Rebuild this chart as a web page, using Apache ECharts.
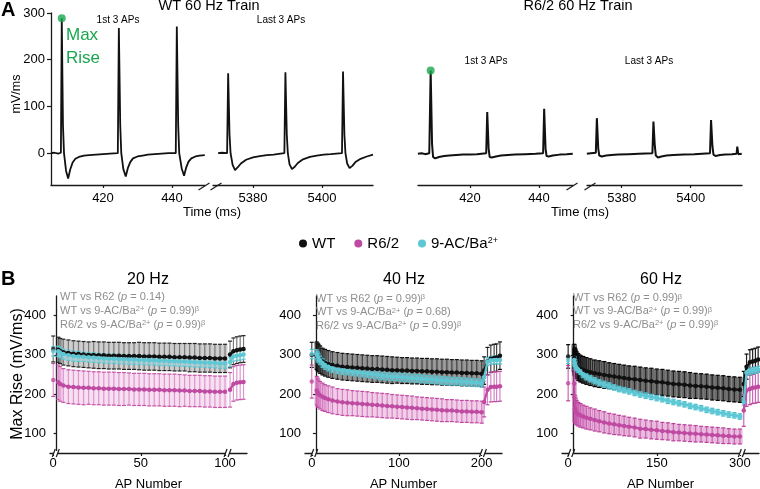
<!DOCTYPE html>
<html>
<head>
<meta charset="utf-8">
<title>Max Rise</title>
<script src="https://cdn.jsdelivr.net/npm/echarts@6.0.0/dist/echarts.min.js"></script>
<style>
html,body{margin:0;padding:0;background:#fff;}
#chart{width:760px;height:489px;}
</style>
</head>
<body>
<div id="chart"></div>
<script>
// ================= DATA =================
// ---- Panel A: dV/dt traces, [time (ms), mV/ms] ----
const wtFirst3 = [[404.9,0],[406.0,1],[407.0,-1],[407.8,1],[408.05,289],[408.4,60],[408.7,0],[409.3,-38],[409.9,-54],[410.5,-35],[411.2,-20],[412.0,-12],[413.0,-8],[414.5,-5],[416.0,-4],[418.0,-3],[420.0,-2],[422.0,-1],[424.3,0],
  [424.6,268],[425.0,60],[425.3,0],[425.9,-34],[426.6,-50],[427.2,-32],[427.9,-19],[428.7,-11],[430.0,-7],[431.5,-5],[433.0,-3],[435.0,-2],[437.0,-1],[439.0,0],[441.1,0],
  [441.4,271],[441.8,60],[442.1,0],[442.8,-32],[443.5,-48],[444.1,-31],[444.8,-18],[445.6,-11],[446.8,-7],[448.0,-5],[449.5,-4]];
const wtLast3 = [[5369.9,0],[5371.0,1],[5372.5,0],[5372.8,171],[5373.2,40],[5373.5,0],[5374.1,-25],[5374.8,-36],[5375.6,-30],[5376.5,-22],[5378.0,-14],[5380.0,-9],[5382.0,-6],[5384.0,-4],[5386.0,-3],[5388.0,-1],[5389.1,0],
  [5389.4,173],[5389.8,40],[5390.1,0],[5390.6,-24],[5391.3,-34],[5392.1,-29],[5393.0,-21],[5394.5,-13],[5396.5,-8],[5398.5,-5],[5400.5,-3],[5402.5,-2],[5405.8,0],
  [5406.1,175],[5406.5,40],[5406.8,0],[5407.3,-22],[5408.0,-32],[5408.8,-27],[5409.7,-19],[5411.2,-12],[5413.0,-7],[5414.8,-3]];
const r6First3 = [[404.9,-1],[406.0,0],[407.0,-2],[408.2,0],[408.6,177],[409.0,20],[409.3,-8],[409.9,-11],[411.0,-8],[412.5,-6],[414.0,-5],[416.0,-4],[418.0,-3],[420.0,-3],[422.0,-2],[424.7,0],
  [425.0,88],[425.4,10],[425.7,-8],[426.3,-9],[427.5,-7],[429.0,-5],[431.0,-4],[433.0,-3],[436.0,-2],[439.0,-1],[441.2,0],
  [441.5,95],[441.9,10],[442.2,-6],[442.8,-7],[444.0,-5],[446.0,-3],[448.0,-2],[449.8,-1]];
const r6Last3 = [[5369.9,-1],[5371.0,0],[5372.5,1],[5372.8,75],[5373.2,10],[5373.5,-5],[5374.2,-7],[5375.5,-5],[5377.0,-4],[5379.0,-3],[5382.0,-2],[5385.0,-1],[5388.9,0],
  [5389.2,68],[5389.6,15],[5389.9,-5],[5390.5,-9],[5391.5,-7],[5393.0,-5],[5395.0,-4],[5398.0,-3],[5401.0,-2],[5405.6,0],
  [5405.9,71],[5406.3,15],[5406.6,-3],[5407.2,-6],[5408.5,-4],[5410.0,-3],[5412.0,-2],[5413.3,-1],[5413.5,14],[5413.8,-2],[5414.8,-1]];
const wtMaxRise = [[408.05, 289]];
const r6MaxRise = [[408.6, 177]];
const timeTicksFirst = [420, 440];
const timeTicksLast = [5380, 5400];
const mvTicks = [0, 100, 200, 300];

// ---- Panel B: Max Rise (mV/ms) vs AP number ----
const riseTicks = [100, 200, 300, 400];
const prePos = [-2, -5, -10];            // isolated first point of each plot (tick "0")
const wtPre = [315, 300, 296],  wtPreE = [33, 32, 30];
const r6Pre = [236, 232, 228],  r6PreE = [42, 42, 45];
const acPre = [309, 302, 287],  acPreE = [12, 12, 9];

// 20 Hz
const apTicks20 = [50, 100];
const ap20 = [1,2,4,7,10,13,16,19,22,25,28,31,34,37,40,43,46,49,52,55,58,61,64,67,70,73,76,79,82,85,88,91,94,97,100];
const wt20 = [313,310,307,305,303,302,301,300,300,299,299,298,298,298,297,297,297,297,296,296,296,295,295,295,294,294,294,293,293,292,292,292,291,291,291];
const wt20e = [32,32,33,33,33,33,33,33,34,34,34,34,34,34,34,34,34,35,35,35,35,35,35,35,35,35,35,36,36,36,36,36,36,36,36];
const ac20 = [309,306,302,299,297,296,295,294,293,292,291,290,290,289,289,288,288,287,287,286,286,285,285,284,284,283,283,282,281,281,280,280,279,278,278];
const ac20e = [13,13,13,13,13,13,12,12,12,12,12,12,12,12,12,12,12,12,12,12,12,12,12,12,12,12,12,12,12,12,12,12,12,12,12];
const r620 = [230,226,222,219,218,217,216,216,215,215,214,214,214,213,213,213,212,212,212,211,211,211,210,210,210,209,209,208,208,208,207,207,206,206,206];
const r620e = [44,44,43,43,43,43,43,42,42,42,42,42,42,42,42,41,41,41,41,41,41,41,41,41,41,41,40,40,40,40,40,40,40,40,40];
const apRec20 = [103,105,107,109,111];
const wtRec20 = [301,309,312,314,315], wtRec20e = [34,34,34,34,34];
const acRec20 = [282,296,298,299,301], acRec20e = [12,12,12,12,12];
const r6Rec20 = [211,226,229,230,231], r6Rec20e = [44,44,44,44,44];

// 40 Hz
const apTicks40 = [100, 200];
const ap40 = [1,2,3,5,8,11,15,20,26,32,38,44,50,56,62,68,74,80,86,92,98,104,110,116,122,128,134,140,146,152,158,164,170,176,182,188,194,200];
const wt40 = [298,295,292,288,283,280,277,274,272,270,269,268,267,266,265,264,264,263,262,261,261,260,260,259,259,258,258,257,257,256,256,255,255,254,254,253,253,252];
const wt40e = [35,35,35,35,34,34,34,34,34,34,34,34,34,34,34,34,34,34,34,34,33,33,33,33,33,33,33,33,33,33,33,33,33,33,33,33,33,33];
const ac40 = [301,296,292,286,279,274,270,266,263,261,259,257,256,254,252,251,249,247,246,245,244,243,242,241,240,239,238,237,236,235,234,233,233,232,231,230,229,228];
const ac40e = [12,12,12,11,11,11,11,11,11,11,10,10,10,10,10,10,10,10,10,10,10,10,10,10,10,10,10,10,10,10,10,10,10,10,10,10,10,10];
const r640 = [209,205,201,197,193,190,187,184,181,179,178,177,176,175,174,173,172,171,170,169,168,167,166,165,164,163,162,161,160,159,158,158,157,156,156,155,155,154];
const r640e = [36,36,35,35,35,34,34,34,33,33,33,32,32,32,32,31,31,31,31,30,30,30,30,30,29,29,29,29,29,29,28,28,28,28,28,28,28,28];
const apRec40 = [203,207,211,215,218,222];
const wtRec40 = [260,284,290,292,293,298], wtRec40e = [35,35,35,35,35,35];
const acRec40 = [243,283,286,287,287,287], acRec40e = [10,10,10,10,10,10];
const r6Rec40 = [180,211,218,219,219,220], r6Rec40e = [38,38,38,38,38,38];

// 60 Hz
const apTicks60 = [150, 300];
const ap60 = [1,2,3,5,8,12,17,23,30,38,46,55,64,73,82,91,100,110,120,130,140,150,160,170,180,190,200,210,220,230,240,250,260,270,280,290,300];
const wt60 = [292,283,279,274,269,265,262,259,256,253,251,249,247,245,243,241,239,238,236,234,233,231,230,228,226,225,224,222,221,220,219,217,216,215,213,212,211];
const wt60e = [35,35,34,34,34,34,34,34,34,34,34,34,33,33,33,33,33,33,33,33,33,33,33,33,33,33,33,33,32,32,32,32,32,32,32,32,32];
const ac60 = [287,280,274,268,263,258,250,244,239,234,229,225,221,217,213,210,207,203,199,196,193,190,187,183,180,177,174,170,167,164,160,157,154,151,148,146,143];
const ac60e = [9,9,8,8,8,8,8,8,8,8,8,8,8,7,7,7,7,7,7,7,7,7,7,7,7,7,7,7,7,7,7,7,7,7,7,7,7];
const r660 = [227,163,158,153,149,146,143,140,137,134,131,128,125,123,121,119,117,115,112,111,109,108,106,105,103,102,101,100,99,98,97,96,95,94,93,92,92];
const r660e = [36,34,32,31,30,30,29,29,28,28,27,27,26,26,25,25,24,24,24,23,23,23,22,22,22,21,21,21,21,20,20,20,20,20,19,19,19];
const apRec60 = [307,312,318,323,328,333];
const wtRec60 = [226,270,281,283,285,288], wtRec60e = [32,32,32,32,32,32];
const acRec60 = [180,256,258,260,261,263], acRec60e = [8,8,8,8,8,8];
const r6Rec60 = [158,209,213,216,217,219], r6Rec60e = [40,40,40,40,40,40];

// ================= STYLE / LAYOUT =================
const FONT = "'Liberation Sans', Arial, Helvetica, sans-serif";
const GREEN = '#19a64e';
const C_WT = '#111111', C_R6 = '#bf4aa2', C_AC = '#5ec7d4';
const GRAY_TXT = '#8e8e8e';
const AX = '#1a1a1a';

const grids = [
  {left: 51,  top: 13,  width: 154, height: 172},
  {left: 213, top: 13,  width: 160, height: 172},
  {left: 418, top: 13,  width: 155, height: 172},
  {left: 587, top: 13,  width: 155, height: 172},
  {left: 50,  top: 296, width: 197, height: 157},
  {left: 305, top: 296, width: 197, height: 157},
  {left: 562, top: 296, width: 197, height: 157}
];
const xRanges = [[404.93,449.57],[5368.41,5414.79],[404.93,449.86],[5369.94,5414.87],[-3.92,113.06],[-13.15,224.5],[-21.1,334.5]];

const pts = (xs, ys) => xs.map((x, i) => [x, ys[i]]);
const errs = (xs, ys, es, band) => xs.map((x, i) => [x, ys[i], es[i], band]);

function xAxisA(gi, ticks) {
  return {
    type: 'value', gridIndex: gi, min: xRanges[gi][0], max: xRanges[gi][1],
    axisLine: {show: true, onZero: false, lineStyle: {color: AX, width: 1.3}},
    axisTick: {show: true, customValues: ticks, length: 3, lineStyle: {color: AX, width: 1.2}},
    axisLabel: {show: true, customValues: ticks, margin: 7, fontSize: 13, fontFamily: FONT, color: '#000',
      formatter: v => String(v)},
    splitLine: {show: false}
  };
}
function xAxisB(gi, ticks) {
  return {
    type: 'value', gridIndex: gi, min: xRanges[gi][0], max: xRanges[gi][1],
    axisLine: {show: true, onZero: false, lineStyle: {color: AX, width: 1.3}},
    axisTick: {show: true, customValues: ticks, length: 3, lineStyle: {color: AX, width: 1.2}},
    axisLabel: {show: true, customValues: ticks, margin: 4, fontSize: 13, fontFamily: FONT, color: '#000',
      formatter: v => (v < 0 ? '0' : String(v))},
    splitLine: {show: false}
  };
}
function yAxisA(gi, show) {
  return {
    type: 'value', gridIndex: gi, min: -68, max: 300, show: show,
    axisLine: {show: true, lineStyle: {color: AX, width: 1.3}},
    axisTick: {show: true, customValues: mvTicks, length: 4, lineStyle: {color: AX, width: 1.2}},
    axisLabel: {show: true, customValues: mvTicks, margin: 6, fontSize: 13, fontFamily: FONT, color: '#000'},
    splitLine: {show: false}
  };
}
function yAxisB(gi) {
  return {
    type: 'value', gridIndex: gi, min: 50, max: 450,
    axisLine: {show: true, lineStyle: {color: AX, width: 1.3}},
    axisTick: {show: true, customValues: riseTicks, length: 3, lineStyle: {color: AX, width: 1.2}},
    axisLabel: {show: true, customValues: riseTicks, margin: 4, fontSize: 13, fontFamily: FONT, color: '#000'},
    splitLine: {show: false}
  };
}

// error-bar renderer (vertical bar + caps, optional band fill)
function errSeries(gi, name, data, st) {
  return {
    type: 'custom', name: name, xAxisIndex: gi, yAxisIndex: gi, data: data, silent: true,
    encode: {x: 0, y: 1}, z: 2,
    renderItem: function (params, api) {
      const x = api.value(0), m = api.value(1), e = api.value(2), band = api.value(3);
      const hi = api.coord([x, m + e]);
      const lo = api.coord([x, m - e]);
      const cx = hi[0];
      const ch = [];
      if (band) {
        ch.push({type: 'rect', shape: {x: cx - st.w / 2, y: hi[1], width: st.w, height: lo[1] - hi[1]}, style: {fill: st.fill}});
      }
      ch.push({type: 'line', shape: {x1: cx, y1: hi[1], x2: cx, y2: lo[1]}, style: {stroke: st.line, lineWidth: 1.2}});
      ch.push({type: 'line', shape: {x1: cx - 2, y1: hi[1], x2: cx + 2, y2: hi[1]}, style: {stroke: st.cap, lineWidth: 1.2}});
      ch.push({type: 'line', shape: {x1: cx - 2, y1: lo[1], x2: cx + 2, y2: lo[1]}, style: {stroke: st.cap, lineWidth: 1.2}});
      return {type: 'group', children: ch};
    }
  };
}
function meanSeries(gi, name, data, color, z) {
  return {
    type: 'line', name: name, xAxisIndex: gi, yAxisIndex: gi, data: data, silent: true,
    symbol: 'circle', symbolSize: 4.5, showSymbol: true, z: z,
    lineStyle: {width: 2.2, color: color}, itemStyle: {color: color}, emphasis: {disabled: true}
  };
}

const ST = {
  20: {wt: {w: 5, fill: 'rgba(0,0,0,0.2)', line: '#7a7a7a', cap: '#222'},
       r6: {w: 5, fill: 'rgba(215,110,190,0.22)', line: '#df96cf', cap: '#c455a8'},
       ac: {w: 5, fill: 'rgba(90,200,215,0.25)', line: '#8fd8e2', cap: '#5cc6d3'}},
  40: {wt: {w: 5, fill: 'rgba(0,0,0,0.42)', line: '#444', cap: '#111'},
       r6: {w: 5, fill: 'rgba(210,100,185,0.32)', line: '#d782c4', cap: '#c04aa2'},
       ac: {w: 5, fill: 'rgba(90,200,215,0.4)', line: '#7fd3df', cap: '#4fbfce'}},
  60: {wt: {w: 5.5, fill: 'rgba(0,0,0,0.58)', line: '#222', cap: '#000'},
       r6: {w: 5.5, fill: 'rgba(200,80,170,0.4)', line: '#c965b4', cap: '#b94099'},
       ac: {w: 5.5, fill: 'rgba(100,205,220,0.6)', line: '#79d0dc', cap: '#4fbfce'}}
};

const plots = [
  {gi: 4, k: 0, st: ST[20], ap: ap20, apRec: apRec20,
   wt: [wt20, wt20e, wtRec20, wtRec20e], r6: [r620, r620e, r6Rec20, r6Rec20e], ac: [ac20, ac20e, acRec20, acRec20e]},
  {gi: 5, k: 1, st: ST[40], ap: ap40, apRec: apRec40,
   wt: [wt40, wt40e, wtRec40, wtRec40e], r6: [r640, r640e, r6Rec40, r6Rec40e], ac: [ac40, ac40e, acRec40, acRec40e]},
  {gi: 6, k: 2, st: ST[60], ap: ap60, apRec: apRec60,
   wt: [wt60, wt60e, wtRec60, wtRec60e], r6: [r660, r660e, r6Rec60, r6Rec60e], ac: [ac60, ac60e, acRec60, acRec60e]}
];
const groupInfo = {wt: ['WT', C_WT, wtPre, wtPreE], r6: ['R6/2', C_R6, r6Pre, r6PreE], ac: ['9-AC/Ba2+', C_AC, acPre, acPreE]};

// ================= SERIES =================
const series = [];
// Panel A traces
const traceStyle = (c, w) => ({lineStyle: {color: c, width: w}, itemStyle: {color: c}});
[[0, wtFirst3, 1.8], [1, wtLast3, 1.8], [2, r6First3, 2.0], [3, r6Last3, 2.0]].forEach(([gi, d, w]) => {
  series.push(Object.assign({type: 'line', name: 'trace' + gi, xAxisIndex: gi, yAxisIndex: gi, data: d,
    symbol: 'none', silent: true, z: 2}, traceStyle('#111', w)));
});
series.push({type: 'scatter', name: 'maxRiseWT', xAxisIndex: 0, yAxisIndex: 0, data: wtMaxRise, symbolSize: 8, itemStyle: {color: GREEN}, z: 5, silent: true});
series.push({type: 'scatter', name: 'maxRiseR6', xAxisIndex: 2, yAxisIndex: 2, data: r6MaxRise, symbolSize: 8, itemStyle: {color: GREEN}, z: 5, silent: true});

// Panel B
plots.forEach(p => {
  ['wt', 'r6', 'ac'].forEach(g => {
    const [name, , pre, preE] = groupInfo[g];
    const d = p[g];
    const data = [[prePos[p.k], pre[p.k], preE[p.k], 0]]
      .concat(errs(p.ap, d[0], d[1], 1))
      .concat(errs(p.apRec, d[2], d[3], 0));
    series.push(errSeries(p.gi, name + ' SEM', data, p.st[g]));
  });
  ['r6', 'wt', 'ac'].forEach((g, zi) => {
    const [name, color, pre] = groupInfo[g];
    const d = p[g];
    series.push(meanSeries(p.gi, name, pts(p.ap, d[0]), color, 4 + zi));
    series.push(meanSeries(p.gi, name, pts(p.apRec, d[2]), color, 4 + zi));
    series.push({type: 'scatter', name: name, xAxisIndex: p.gi, yAxisIndex: p.gi, data: [[prePos[p.k], pre[p.k]]],
      symbolSize: 4.5, itemStyle: {color: color}, z: 4 + zi, silent: true});
  });
});

// ================= TEXT =================
function txt(x, y, text, font, o) {
  const st = Object.assign({text: text, font: font, fill: '#000', textAlign: 'left', textVerticalAlign: 'middle', align: 'left', verticalAlign: 'middle'}, o || {});
  return {type: 'text', x: x, y: y, silent: true, z: 100, style: st};
}
const rich = {
  g: {fontSize: 11, fontFamily: FONT, color: GRAY_TXT},
  i: {fontSize: 11, fontFamily: FONT, color: GRAY_TXT, fontStyle: 'italic'},
  s: {fontSize: 7.5, fontFamily: FONT, color: GRAY_TXT, verticalAlign: 'top'}
};
function pline(x, y, s) { return txt(x, y, s, '11px ' + FONT, {rich: rich, fill: GRAY_TXT}); }
const L_R62 = v => '{g|WT vs R62 (}{i|p}{g| = ' + v + ')}';
const L_WTAC = v => '{g|WT vs 9-AC/Ba}{s|2+}{g| (}{i|p}{g| = ' + v + ')}';
const L_R6AC = v => '{g|R6/2 vs 9-AC/Ba}{s|2+}{g| (}{i|p}{g| = ' + v + ')}';
const B_ = '{s|β}';

const texts = [
  txt(1, 10, 'A', 'bold 20px ' + FONT),
  txt(1, 279, 'B', 'bold 20px ' + FONT),
  txt(209, 5.5, 'WT 60 Hz Train', '14.5px ' + FONT, {textAlign: 'center', align: 'center'}),
  txt(578, 5.5, 'R6/2 60 Hz Train', '14.5px ' + FONT, {textAlign: 'center', align: 'center'}),
  txt(118, 20.5, '1st 3 APs', '10px ' + FONT, {textAlign: 'center', align: 'center'}),
  txt(281, 20.5, 'Last 3 APs', '10px ' + FONT, {textAlign: 'center', align: 'center'}),
  txt(486, 61, '1st 3 APs', '10px ' + FONT, {textAlign: 'center', align: 'center'}),
  txt(649, 61, 'Last 3 APs', '10px ' + FONT, {textAlign: 'center', align: 'center'}),
  txt(66, 35, 'Max', '17px ' + FONT, {fill: GREEN}),
  txt(66, 58, 'Rise', '17px ' + FONT, {fill: GREEN}),
  Object.assign(txt(17, 94, 'mV/ms', '12.5px ' + FONT, {textAlign: 'center', align: 'center'}), {rotation: Math.PI / 2}),
  txt(212, 212, 'Time (ms)', '13px ' + FONT, {textAlign: 'center', align: 'center'}),
  txt(580, 212, 'Time (ms)', '13px ' + FONT, {textAlign: 'center', align: 'center'}),
  txt(148, 279.5, '20 Hz', '16px ' + FONT, {textAlign: 'center', align: 'center'}),
  txt(404, 279.5, '40 Hz', '16px ' + FONT, {textAlign: 'center', align: 'center'}),
  txt(661, 279.5, '60 Hz', '16px ' + FONT, {textAlign: 'center', align: 'center'}),
  Object.assign(txt(18, 374, 'Max Rise (mV/ms)', '16px ' + FONT, {textAlign: 'center', align: 'center'}), {rotation: Math.PI / 2}),
  txt(148.5, 484.5, 'AP Number', '13px ' + FONT, {textAlign: 'center', align: 'center'}),
  txt(403.5, 484.5, 'AP Number', '13px ' + FONT, {textAlign: 'center', align: 'center'}),
  txt(660.5, 484.5, 'AP Number', '13px ' + FONT, {textAlign: 'center', align: 'center'}),
  pline(60, 296.5, L_R62('0.14')),
  pline(60, 310.5, L_WTAC('0.99') + B_),
  pline(60, 324.5, L_R6AC('0.99') + B_),
  pline(316, 298.5, L_R62('0.99') + B_),
  pline(316, 312, L_WTAC('0.68')),
  pline(316, 325.5, L_R6AC('0.99') + B_),
  pline(573, 298, L_R62('0.99') + B_),
  pline(573, 311, L_WTAC('0.99') + B_),
  pline(573, 324.5, L_R6AC('0.99') + B_)
];

// ================= OPTION =================
const option = {
  animation: false,
  backgroundColor: '#fff',
  textStyle: {fontFamily: FONT},
  grid: grids.map(g => Object.assign({containLabel: false}, g)),
  xAxis: [xAxisA(0, timeTicksFirst), xAxisA(1, timeTicksLast), xAxisA(2, timeTicksFirst), xAxisA(3, timeTicksLast),
          xAxisB(4, [prePos[0]].concat(apTicks20)), xAxisB(5, [prePos[1]].concat(apTicks40)), xAxisB(6, [prePos[2]].concat(apTicks60))],
  yAxis: [yAxisA(0, true), yAxisA(1, false), yAxisA(2, false), yAxisA(3, false), yAxisB(4), yAxisB(5), yAxisB(6)],
  legend: {
    data: ['WT', 'R6/2', '9-AC/Ba2+'], left: 294, top: 231, icon: 'circle', itemWidth: 8, itemHeight: 8, itemGap: 19,
    selectedMode: false,
    formatter: n => (n === '9-AC/Ba2+' ? '{t|9-AC/Ba}{s|2+}' : '{t|' + n + '}'),
    textStyle: {rich: {t: {fontSize: 15, fontFamily: FONT, color: '#000'}, s: {fontSize: 9, fontFamily: FONT, color: '#000', verticalAlign: 'top'}}}
  },
  series: series
};

const chart = echarts.init(document.getElementById('chart'), null, {renderer: 'canvas'});
chart.setOption(option);

// ---- axis-break marks ----
const marks = [];
function slash(cx, cy, dx, dy) {
  return {type: 'line', silent: true, z: 101, shape: {x1: cx - dx / 2, y1: cy + dy / 2, x2: cx + dx / 2, y2: cy - dy / 2}, style: {stroke: AX, lineWidth: 1.2}};
}
// panel A: between the two time segments
[[0, 1], [2, 3]].forEach(([a, b]) => {
  const ga = grids[a], gb = grids[b];
  const y = ga.top + ga.height + 1.5;
  marks.push(slash(ga.left + ga.width - 1, y, 11, 7));
  marks.push(slash(gb.left + 3, y, 11, 7));
});
// panel B: after the isolated first point, and after the train
plots.forEach(p => {
  const g = grids[p.gi];
  const y = g.top + g.height;
  const b1 = (prePos[p.k] + p.ap[0]) / 2;
  const b2 = (p.ap[p.ap.length - 1] + p.apRec[0]) / 2;
  [b1, b2].forEach(v => {
    const px = chart.convertToPixel({xAxisIndex: p.gi}, v);
    marks.push({type: 'rect', silent: true, z: 100, shape: {x: px - 2, y: y - 2, width: 4, height: 4}, style: {fill: '#fff'}});
    marks.push(slash(px - 2, y, 3, 8));
    marks.push(slash(px + 2, y, 3, 8));
  });
});

chart.setOption({graphic: {elements: texts.concat(marks)}});
</script>
</body>
</html>
